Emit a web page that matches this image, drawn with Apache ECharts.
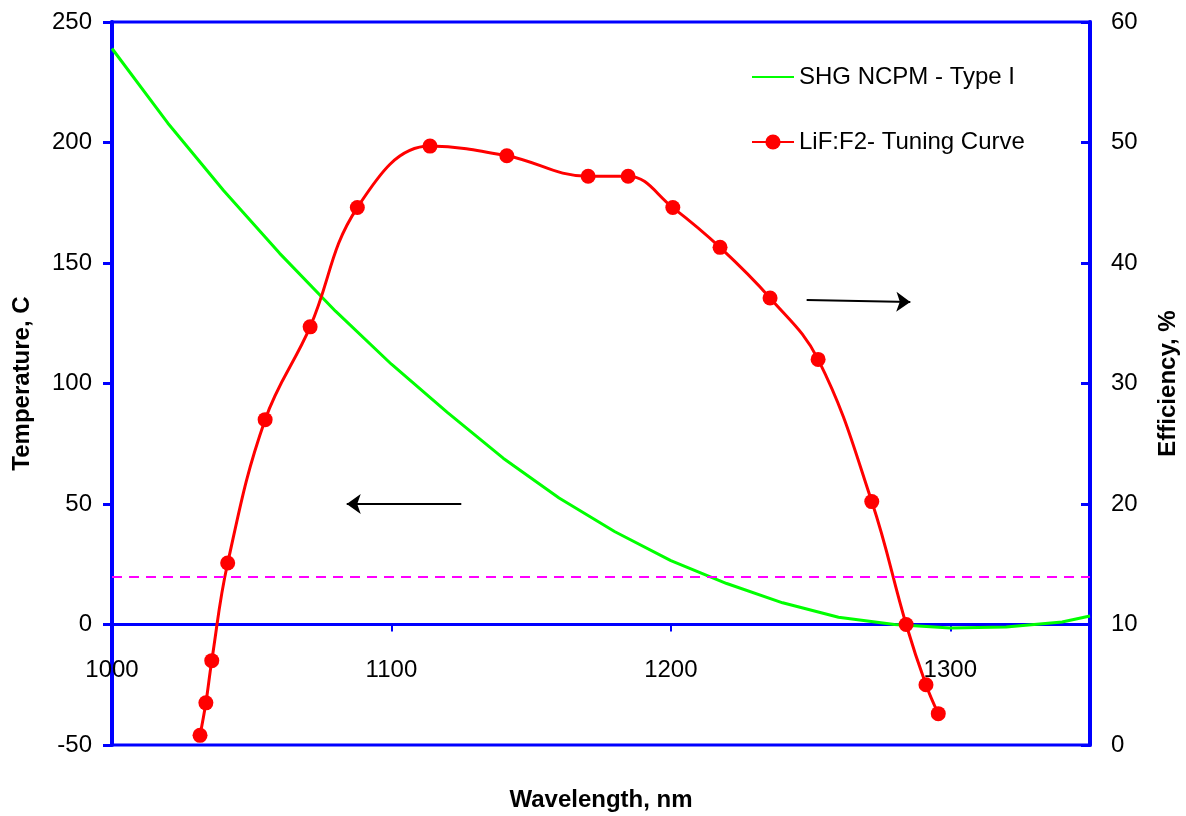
<!DOCTYPE html>
<html>
<head>
<meta charset="utf-8">
<script src="https://cdn.jsdelivr.net/npm/echarts@6/dist/echarts.min.js"></script>
<style>
html,body{margin:0;padding:0;background:#fff;}
#chart{width:1186px;height:816px;}
</style>
</head>
<body>
<div id="chart"></div>
<script>
// SHG NCPM - Type I (temperature, C vs wavelength, nm)
const shgWavelength = [1000, 1020, 1040, 1060, 1080, 1100, 1120, 1140, 1160, 1180, 1200, 1220, 1240, 1260, 1280, 1300, 1320, 1340, 1350];
const shgTemperature = [239, 208, 180, 154, 130, 108, 88, 69, 52.5, 38.5, 26.5, 17, 9, 3, 0, -1.5, -1, 1, 3.5];
// LiF:F2- Tuning Curve (efficiency, % vs wavelength, nm)
const lifWavelength = [1031.5, 1033.6, 1035.7, 1041.4, 1054.8, 1070.9, 1087.8, 1113.8, 1141.3, 1170.4, 1184.7, 1200.7, 1217.6, 1235.5, 1252.7, 1271.9, 1284.2, 1291.3, 1295.7];
const lifEfficiency = [0.8, 3.5, 7.0, 15.1, 27.0, 34.7, 44.6, 49.7, 48.9, 47.2, 47.2, 44.6, 41.3, 37.1, 32.0, 20.2, 10.0, 5.0, 2.6];
// reference level (temperature, C)
const refTemperature = 20;
// annotation arrows [x1, y1, x2, y2] on temperature scale
const arrowLeft = [1125, 50, 1084, 50];
const arrowRight = [1248.6, 134.6, 1285.7, 133.8];
// axis ticks
const xTicks = {min: 1000, max: 1350, interval: 100};
const tTicks = {min: -50, max: 250, interval: 50};
const eTicks = {min: 0, max: 60, interval: 10};

const FONT = '"Liberation Sans", Arial, sans-serif';
const BLUE = '#0000FF';
const chart = echarts.init(document.getElementById('chart'));

const shgData = shgWavelength.map((x, i) => [x, shgTemperature[i]]);
const lifData = lifWavelength.map((x, i) => [x, lifEfficiency[i]]);

chart.setOption({
  animation: false,
  textStyle: {fontFamily: FONT},
  grid: {left: 112, right: 96, top: 22, bottom: 71, containLabel: false, outerBoundsMode: 'none',
    show: true, borderColor: BLUE, borderWidth: 3, backgroundColor: 'transparent'},
  legend: {
    orient: 'vertical', left: 746, top: 60, itemWidth: 42, itemHeight: 19, itemGap: 41,
    textStyle: {fontFamily: FONT, fontSize: 24, color: '#000'},
    data: [
      {name: 'SHG NCPM - Type I', itemStyle: {opacity: 0}},
      {name: 'LiF:F2- Tuning Curve'}
    ]
  },
  xAxis: {
    type: 'value', min: xTicks.min, max: xTicks.max, interval: xTicks.interval,
    name: 'Wavelength, nm', nameLocation: 'middle', nameGap: 43,
    nameTextStyle: {fontFamily: FONT, fontSize: 24, fontWeight: 'bold', color: '#000'},
    axisLine: {onZero: true, onZeroAxisIndex: 0, lineStyle: {color: BLUE, width: 3}},
    axisTick: {show: true, length: 7, lineStyle: {color: BLUE, width: 2}},
    axisLabel: {fontFamily: FONT, fontSize: 24, color: '#000', margin: -87, showMaxLabel: false,
      formatter: v => String(v)},
    splitLine: {show: false}
  },
  yAxis: [
    {
      type: 'value', min: tTicks.min, max: tTicks.max, interval: tTicks.interval, position: 'left',
      name: 'Temperature, C', nameLocation: 'middle', nameGap: 78, nameRotate: 90,
      nameTextStyle: {fontFamily: FONT, fontSize: 24, fontWeight: 'bold', color: '#000'},
      axisLine: {show: true, onZero: false, lineStyle: {color: BLUE, width: 4}},
      axisTick: {show: true, length: 9, lineStyle: {color: BLUE, width: 3}},
      axisLabel: {fontFamily: FONT, fontSize: 24, color: '#000', margin: 20},
      splitLine: {show: false}
    },
    {
      type: 'value', min: eTicks.min, max: eTicks.max, interval: eTicks.interval, position: 'right',
      name: 'Efficiency, %', nameLocation: 'middle', nameGap: 66, nameRotate: 90,
      nameTextStyle: {fontFamily: FONT, fontSize: 24, fontWeight: 'bold', color: '#000'},
      axisLine: {show: true, onZero: false, lineStyle: {color: BLUE, width: 4}},
      axisTick: {show: true, inside: true, length: 9, lineStyle: {color: BLUE, width: 3}},
      axisLabel: {fontFamily: FONT, fontSize: 24, color: '#000', margin: 21},
      splitLine: {show: false}
    }
  ],
  series: [
    {
      name: 'SHG NCPM - Type I', type: 'line', yAxisIndex: 0, data: shgData,
      symbol: 'none', lineStyle: {color: '#00FF00', width: 3}, itemStyle: {color: '#00FF00'},
      silent: true, z: 3,
      markLine: {
        silent: true, animation: false,
        symbol: ['none', 'none'], label: {show: false},
        lineStyle: {color: '#FF00FF', width: 2, type: [10, 7]},
        data: [{yAxis: refTemperature}]
      }
    },
    {
      name: 'annotations', type: 'line', yAxisIndex: 0, data: [], silent: true,
      markLine: {
        silent: true, animation: false,
        symbol: ['none', 'arrow'], symbolSize: [15, 14], label: {show: false},
        lineStyle: {color: '#000', width: 2, type: 'solid'},
        emphasis: {disabled: true},
        data: [
          [{coord: [arrowLeft[0], arrowLeft[1]]}, {coord: [arrowLeft[2], arrowLeft[3]]}],
          [{coord: [arrowRight[0], arrowRight[1]]}, {coord: [arrowRight[2], arrowRight[3]]}]
        ]
      }
    },
    {
      name: 'LiF:F2- Tuning Curve', type: 'line', yAxisIndex: 1, data: lifData,
      smooth: 0.4, symbol: 'circle', symbolSize: 15, showSymbol: true,
      lineStyle: {color: '#FF0000', width: 3}, itemStyle: {color: '#FF0000'},
      silent: true, z: 4
    }
  ]
});
</script>
</body>
</html>
